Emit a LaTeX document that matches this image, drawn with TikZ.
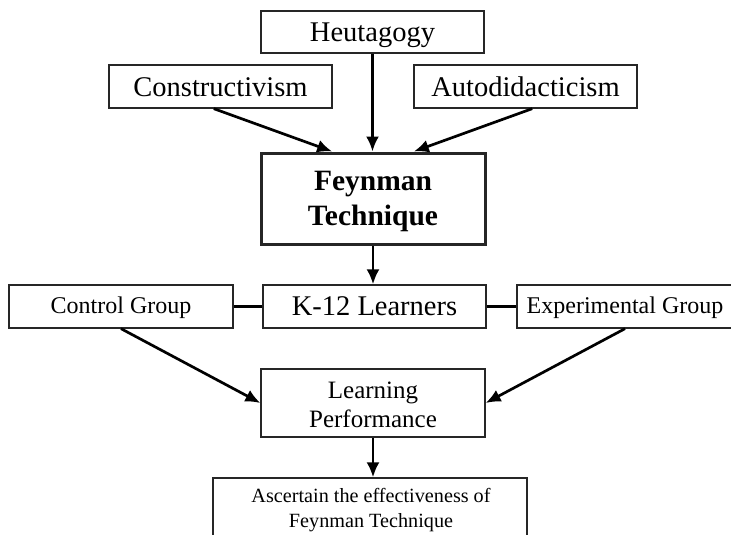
\documentclass[tikz,border=0pt]{standalone}
\usepackage{fontspec}
\setmainfont{Liberation Serif}
\usetikzlibrary{arrows.meta,calc}
\tikzset{
  box/.style={draw=black!85,line width=1.3pt,inner sep=0pt,align=center,rectangle},
  bigtxt/.style={font=\fontsize{28.5}{34}\selectfont,text height=20pt,text depth=0pt},
  midtxt/.style={font=\fontsize{24}{29}\selectfont,text height=13pt,text depth=0pt},
  linetxt/.style={inner sep=0pt,anchor=base},
  arr/.style={line width=2.7pt,-{Latex[length=15pt,width=13pt]}},
  link/.style={line width=2.7pt}
}
\begin{document}
\begin{tikzpicture}[x=1pt,y=-1pt]
\useasboundingbox (0,0) rectangle (731,535);
\fill[white] (0,0) rectangle (731,535);
\node[box,bigtxt,minimum width=223pt,minimum height=42pt] (heu) at (372.5,32) {Heutagogy};
\node[box,bigtxt,minimum width=223pt,minimum height=43pt] (con) at (220.5,86.5) {Constructivism};
\node[box,bigtxt,minimum width=223pt,minimum height=43pt] (aut) at (525.5,86.5) {Autodidacticism};
\node[box,line width=3pt,minimum width=224pt,minimum height=91pt] (fey) at (373,198.5) {};
\node[linetxt,font=\bfseries\fontsize{29.5}{35}\selectfont] (fey1) at (373,190) {Feynman};
\node[linetxt,font=\bfseries\fontsize{29.5}{35}\selectfont] (fey2) at (373,225) {Technique};
\node[box,midtxt,minimum width=224pt,minimum height=43pt] (ctl) at (121,306.5) {Control Group};
\node[box,bigtxt,text height=17pt,minimum width=223pt,minimum height=43pt] (k12) at (374.5,306.5) {K-12 Learners};
\node[box,midtxt,minimum width=216pt,minimum height=43pt] (exp) at (625,306.5) {Experimental Group};
\node[box,minimum width=224pt,minimum height=68pt] (lp) at (373,403) {};
\node[linetxt,font=\fontsize{25}{29}\selectfont] (lp1) at (373,398) {Learning};
\node[linetxt,font=\fontsize{25}{29}\selectfont] (lp2) at (373,427) {Performance};
\node[box,minimum width=314pt,minimum height=59pt] (asc) at (370,507.5) {};
\node[linetxt,font=\fontsize{20.2}{25}\selectfont] (asc1) at (371,502) {Ascertain the effectiveness of};
\node[linetxt,font=\fontsize{20.2}{25}\selectfont] (asc2) at (371,527) {Feynman Technique};
\draw[arr] ($(con.south west)!0.47!(con.south east)$) -- ($(fey.north west)!0.32!(fey.north east)$);
\draw[arr] (heu.south) -- (heu.south |- fey.north);
\draw[arr] ($(aut.south west)!0.53!(aut.south east)$) -- ($(fey.north west)!0.68!(fey.north east)$);
\draw[arr] (fey.south) -- (fey.south |- k12.north);
\draw[link] (ctl.east) -- (k12.west);
\draw[link] (k12.east) -- (exp.west);
\draw[arr] (ctl.south) -- (lp.west);
\draw[arr] (exp.south) -- (lp.east);
\draw[arr] (lp.south) -- (lp.south |- asc.north);
\end{tikzpicture}
\end{document}
